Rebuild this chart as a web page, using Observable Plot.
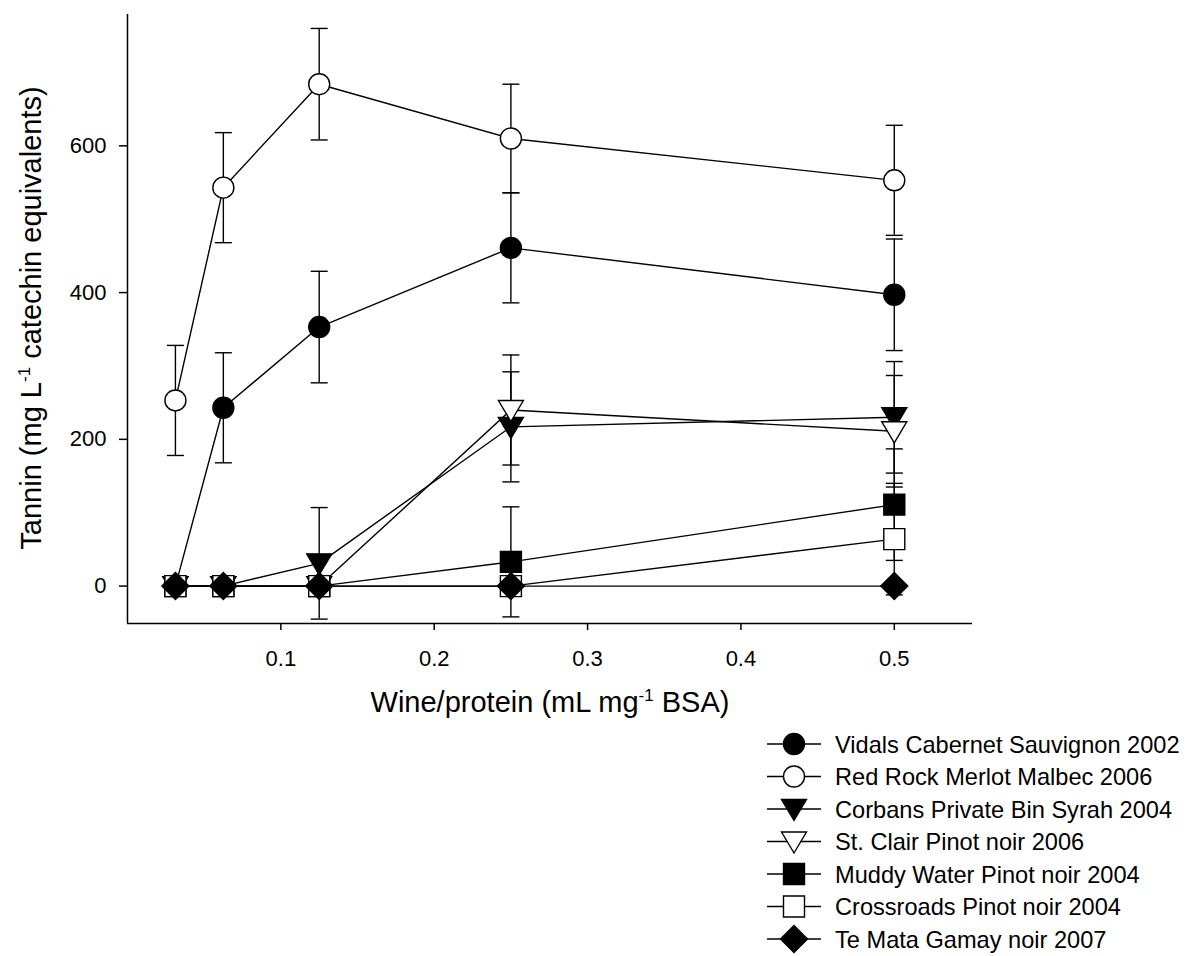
<!DOCTYPE html>
<html>
<head>
<meta charset="utf-8">
<script src="https://cdn.jsdelivr.net/npm/d3@7"></script>
<script src="https://cdn.jsdelivr.net/npm/@observablehq/plot@0.6"></script>
<style>
  body { margin: 0; background: #fff; font-family: "Liberation Sans", Arial, sans-serif; }
  #wrap { width: 1187px; height: 956px; overflow: hidden; }
  #chart svg { display: block; }
  #legend { display: block; }
</style>
</head>
<body>
<div id="wrap"><div id="chart"></div><svg id="legend" width="1187" height="231"></svg></div>
<script>
// ---- Data ----
const ratios = [0.03125, 0.0625, 0.125, 0.25, 0.5];          // wine/protein, mL mg-1 BSA
const seriesNames = [
  "Vidals Cabernet Sauvignon 2002",
  "Red Rock Merlot Malbec 2006",
  "Corbans Private Bin Syrah 2004",
  "St. Clair Pinot noir 2006",
  "Muddy Water Pinot noir 2004",
  "Crossroads Pinot noir 2004",
  "Te Mata Gamay noir 2007"
];
const vidals      = [0, 243, 353, 461, 397];
const vidalsErr   = [0, 75, 76, 75, 76];
const redRock     = [253, 543, 684, 610, 553];
const redRockErr  = [75, 75, 76, 74, 75];
const corbans     = [0, 0, 31, 217, 230];
const corbansErr  = [0, 0, 76, 75, 76];
const stClair     = [0, 0, 0, 240, 211];
const stClairErr  = [0, 0, 0, 75, 76];
const muddy       = [0, 0, 0, 33, 111];
const muddyErr    = [0, 0, 0, 75, 76];
const crossroads  = [0, 0, 0, 0, 64];
const crossroadsErr = [0, 0, 0, 0, 76];
const teMata      = [0, 0, 0, 0, 0];
const teMataErr   = [0, 0, 0, 0, 0];
const xTicks = [0.1, 0.2, 0.3, 0.4, 0.5];
const yTicks = [0, 200, 400, 600];
const xTitle = ["Wine/protein (mL mg", "-1", " BSA)"];
const yTitle = ["Tannin (mg L", "-1", " catechin equivalents)"];

// ---- Symbols ----
function sym(fn) { return { draw(ctx, size) { const s = Math.sqrt(size / Math.PI) / 10; fn(ctx, s); } }; }
const circleSym = sym((c, s) => { const r = 10.5 * s; c.moveTo(r, 0); c.arc(0, 0, r, 0, 2 * Math.PI); c.closePath(); });
const triDownSym = sym((c, s) => { c.moveTo(-12.5 * s, -9.5 * s); c.lineTo(12.5 * s, -9.5 * s); c.lineTo(0, 11.5 * s); c.closePath(); });
const squareSym = sym((c, s) => { const h = 10.5 * s; c.moveTo(-h, -h); c.lineTo(h, -h); c.lineTo(h, h); c.lineTo(-h, h); c.closePath(); });
const diamondSym = sym((c, s) => { const h = 13.5 * s; c.moveTo(0, -h); c.lineTo(h, 0); c.lineTo(0, h); c.lineTo(-h, 0); c.closePath(); });
const capSym = sym((c, s) => { c.moveTo(-8.5 * s, 0); c.lineTo(8.5 * s, 0); });

const valueLists = [vidals, redRock, corbans, stClair, muddy, crossroads, teMata];
const errLists = [vidalsErr, redRockErr, corbansErr, stClairErr, muddyErr, crossroadsErr, teMataErr];
const symbols = [circleSym, circleSym, triDownSym, triDownSym, squareSym, squareSym, diamondSym];
const fills = ["black", "white", "black", "white", "black", "white", "black"];

const series = seriesNames.map((name, i) => ({
  name, symbol: symbols[i], fill: fills[i],
  points: ratios.map((x, j) => ({ series: name, x, y: valueLists[i][j], e: errLists[i][j] }))
}));
const allPoints = series.flatMap(s => s.points);

const yMin = -51, yMax = 779;
const lw = 1.4;
const FONT = "'Liberation Sans', Arial, sans-serif";

const marks = [
  Plot.ruleX([0], { stroke: "black", strokeWidth: 1.5 }),
  Plot.ruleY([yMin], { stroke: "black", strokeWidth: 1.5 }),
  Plot.axisX({ ticks: xTicks, tickSize: 7, tickPadding: 20, fontSize: 22, strokeWidth: 1.5, tickFormat: d => String(d), label: null }),
  Plot.axisY({ ticks: yTicks, tickSize: 8, tickPadding: 13, fontSize: 22, strokeWidth: 1.5, tickFormat: d => String(d), label: null }),
  Plot.line(allPoints, { x: "x", y: "y", z: "series", stroke: "black", strokeWidth: lw })
];
series.forEach(s => {
  const withErr = s.points.filter(d => d.e > 0);
  marks.push(Plot.ruleX(withErr, { x: "x", y1: d => d.y - d.e, y2: d => d.y + d.e, stroke: "black", strokeWidth: lw }));
  marks.push(Plot.dot(withErr, { x: "x", y: d => d.y + d.e, symbol: capSym, r: 10, stroke: "black", fill: "none", strokeWidth: lw }));
  marks.push(Plot.dot(withErr, { x: "x", y: d => d.y - d.e, symbol: capSym, r: 10, stroke: "black", fill: "none", strokeWidth: lw }));
});
series.forEach(s => {
  marks.push(Plot.dot(s.points, { x: "x", y: "y", symbol: s.symbol, r: 10, fill: s.fill, stroke: "black", strokeWidth: lw }));
});

const chart = Plot.plot({
  width: 1187,
  height: 725,
  marginLeft: 127,
  marginRight: 215,
  marginTop: 14,
  marginBottom: 102,
  style: { fontFamily: FONT, fontSize: "22px", color: "black", background: "white" },
  x: { domain: [0, 0.551] },
  y: { domain: [yMin, yMax] },
  marks
});
document.getElementById("chart").appendChild(chart);

// Axis titles with superscripts
const svg = d3.select(chart);
function title(parts, transform) {
  const t = svg.append("text").attr("transform", transform).attr("text-anchor", "middle")
    .attr("fill", "black").style("font-size", "29px").style("font-family", FONT);
  t.append("tspan").text(parts[0]);
  t.append("tspan").attr("dy", -11).style("font-size", "17px").text(parts[1]);
  t.append("tspan").attr("dy", 11).text(parts[2]);
}
title(xTitle, "translate(550,712)");
title(yTitle, "translate(41,318) rotate(-90)");

// Legend (below the plot)
const leg = d3.select("#legend");
series.forEach((s, i) => {
  const cy = 19 + 32.5 * i;
  const g = leg.append("g").attr("transform", `translate(0,${cy})`);
  g.append("line").attr("x1", 767).attr("x2", 821).attr("y1", 0).attr("y2", 0).attr("stroke", "black").attr("stroke-width", lw);
  const p = d3.path(); s.symbol.draw(p, Math.PI * 100);
  g.append("path").attr("d", p.toString()).attr("transform", "translate(794,0)")
    .attr("fill", s.fill).attr("stroke", "black").attr("stroke-width", lw);
  g.append("text").attr("x", 835).attr("y", 0).attr("dy", "0.36em").attr("fill", "black")
    .style("font-size", "23.6px").style("font-family", FONT).text(s.name);
});
</script>
</body>
</html>
